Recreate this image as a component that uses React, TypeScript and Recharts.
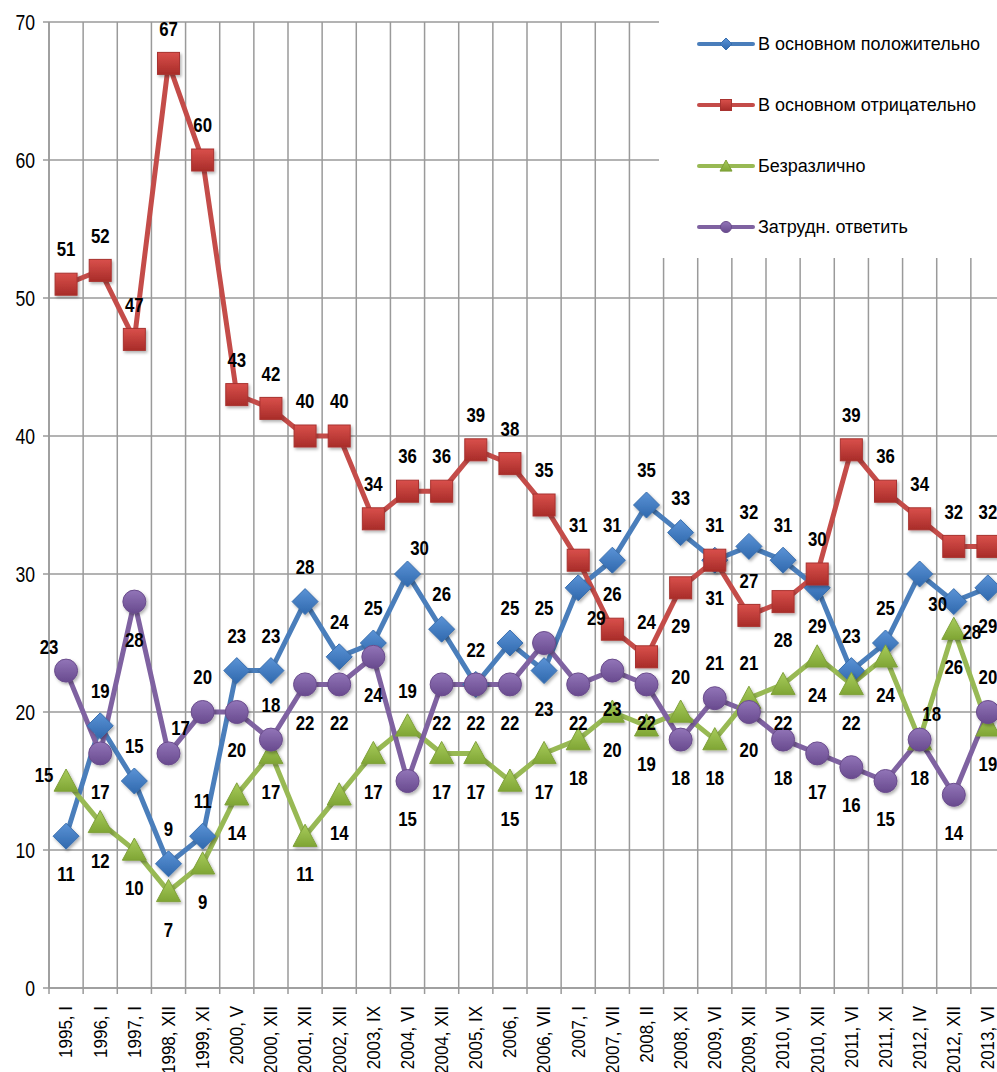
import React from 'react';
import {
  LineChart,
  Line,
  XAxis,
  YAxis,
  CartesianGrid,
  Legend,
  LabelList,
} from 'recharts';

// категории опросов (год, месяц)
const categories = [
  '1995, I', '1996, I', '1997, I', '1998, XII', '1999, XI', '2000, V', '2000, XII',
  '2001, XII', '2002, XII', '2003, IX', '2004, VI', '2004, XII', '2005, IX', '2006, I',
  '2006, VII', '2007, I', '2007, VII', '2008, II', '2008, XI', '2009, VI', '2009, XII',
  '2010, VI', '2010, XII', '2011, VI', '2011, XI', '2012, IV', '2012, XII', '2013, VI',
];

const positive = [11, 19, 15, 9, 11, 23, 23, 28, 24, 25, 30, 26, 22, 25, 23, 29, 31, 35, 33, 31, 32, 31, 29, 23, 25, 30, 28, 29];
const negative = [51, 52, 47, 67, 60, 43, 42, 40, 40, 34, 36, 36, 39, 38, 35, 31, 26, 24, 29, 31, 27, 28, 30, 39, 36, 34, 32, 32];
const indifferent = [15, 12, 10, 7, 9, 14, 17, 11, 14, 17, 19, 17, 17, 15, 17, 18, 20, 19, 20, 18, 21, 22, 24, 22, 24, 18, 26, 19];
const hardToSay = [23, 17, 28, 17, 20, 20, 18, 22, 22, 24, 15, 22, 22, 22, 25, 22, 23, 22, 18, 21, 20, 18, 17, 16, 15, 18, 14, 20];

const yTicks = [0, 10, 20, 30, 40, 50, 60, 70];

// где стоит подпись значения относительно точки
const posPlace = ['b', 't', 't', 't', 't', 't', 't', 't', 't', 't', 'tr', 't', 't', 't', 'b', 'br', 't', 't', 't', 't', 't', 't', 'b', 't', 't', 'br', 'br', 'b'];
const negPlace = ['t', 't', 't', 't', 't', 't', 't', 't', 't', 't', 't', 't', 't', 't', 't', 't', 't', 't', 'b', 'b', 't', 'b', 't', 't', 't', 't', 't', 't'];
const indPlace = ['l', 'b', 'b', 'b', 'b', 'b', 'b', 'b', 'b', 'b', 't', 'b', 'b', 'b', 'b', 'b', 'b', 'b', 't', 'b', 't', 'b', 'b', 'b', 'b', 'tr', 'b', 'b'];
const hardPlace = ['tl', 'b', 'b', 'tr', 't', 'b', 't', 'b', 'b', 'b', 'b', 'b', 'b', 'b', 't', 'b', 'b', 'b', 'b', 't', 'b', 'b', 'b', 'b', 'b', 'b', 'b', 't'];

const data = categories.map((c, i) => ({
  cat: c,
  positive: positive[i],
  negative: negative[i],
  indifferent: indifferent[i],
  hardToSay: hardToSay[i],
}));

const W = 1005;
const H = 1072;
const LEFT = 49;
const BAND = (W - LEFT) / categories.length;

const SANS = '"Liberation Sans", Arial, sans-serif';
const GRID = '#9a9a9a';
const NARROW_X = 0.8; // нет узкого шрифта — сжимаем обычный

const offsets: Record<string, [number, number]> = {
  t: [0, -35],
  b: [0, 38],
  tr: [12, -26],
  br: [18, 30],
  l: [-22, -6],
  tl: [-17, -24],
};

const makeLabel = (place: string[]) => (props: any) => {
  const { x, y, value, index } = props;
  const [dx, dy] = offsets[place[index]] || offsets.t;
  return (
    <text
      transform={`translate(${x + dx},${y + dy}) scale(${NARROW_X},1)`}
      textAnchor="middle"
      dominantBaseline="central"
      fontFamily={SANS}
      fontWeight="bold"
      fontSize={21}
      fill="#000"
    >
      {value}
    </text>
  );
};

const Diamond = ({ cx, cy, s = 13, f = 'url(#sh)' }: any) => (
  <path
    d={`M${cx},${cy - s} L${cx + s},${cy} L${cx},${cy + s} L${cx - s},${cy} Z`}
    fill="url(#gBlue)"
    stroke="#3a6fae"
    strokeWidth={1}
    filter={f}
  />
);
const Square = ({ cx, cy, s = 11, f = 'url(#sh)' }: any) => (
  <rect x={cx - s} y={cy - s} width={s * 2} height={s * 2} fill="url(#gRed)" stroke="#a83330" strokeWidth={1} filter={f} />
);
const Triangle = ({ cx, cy, s = 12, f = 'url(#sh)' }: any) => (
  <path
    d={`M${cx},${cy - s} L${cx + s},${cy + s * 0.85} L${cx - s},${cy + s * 0.85} Z`}
    fill="url(#gGreen)"
    stroke="#7fa03a"
    strokeWidth={1}
    filter={f}
  />
);
const Circle = ({ cx, cy, s = 11.5, f = 'url(#sh)' }: any) => (
  <circle cx={cx} cy={cy} r={s} fill="url(#gPurple)" stroke="#6a4c8c" strokeWidth={1} filter={f} />
);

const series = [
  { key: 'positive', name: 'В основном положительно', color: '#4a7ebb', Mark: Diamond, place: posPlace, small: 6 },
  { key: 'negative', name: 'В основном отрицательно', color: '#c44c49', Mark: Square, place: negPlace, small: 5.5 },
  { key: 'indifferent', name: 'Безразлично', color: '#98b954', Mark: Triangle, place: indPlace, small: 6 },
  { key: 'hardToSay', name: 'Затрудн. ответить', color: '#7f62a1', Mark: Circle, place: hardPlace, small: 5.5 },
];

const XTick = (props: any) => {
  const { x, y, payload } = props;
  const top = y + 10;
  return (
    <g>
      <line x1={x - BAND / 2} x2={x - BAND / 2} y1={y - 8} y2={y - 2} stroke={GRID} strokeWidth={1.5} />
      <text
        transform={`translate(${x},${top}) rotate(-90) scale(1,1.12)`}
        textAnchor="end"
        dominantBaseline="central"
        fontFamily={SANS}
        fontSize={17}
        fill="#000"
      >
        {payload.value}
      </text>
    </g>
  );
};

const YTick = (props: any) => {
  const { x, y, payload } = props;
  return (
    <text
      transform={`translate(${x},${y}) scale(${NARROW_X},1)`}
      textAnchor="end"
      dominantBaseline="central"
      fontFamily={SANS}
      fontSize={22}
      fill="#000"
    >
      {payload.value}
    </text>
  );
};

const LegendBox = () => (
  <div
    style={{
      width: 340,
      height: 258,
      background: '#fff',
      boxSizing: 'border-box',
      paddingTop: 30,
      paddingLeft: 38,
    }}
  >
    {series.map((s) => (
      <div key={s.key} style={{ display: 'flex', alignItems: 'center', height: 28, marginBottom: 33 }}>
        <svg width={58} height={24} style={{ display: 'block' }}>
          <line x1={2} x2={56} y1={12} y2={12} stroke={s.color} strokeWidth={4} strokeLinecap="round" />
          <s.Mark cx={29} cy={12} s={s.small} f="none" />
        </svg>
        <span style={{ fontFamily: SANS, fontSize: 18, color: '#000', marginLeft: 3, whiteSpace: 'nowrap' }}>
          {s.name}
        </span>
      </div>
    ))}
  </div>
);

export default function App() {
  return (
    <div style={{ width: 997, height: H, overflow: 'hidden', position: 'relative', background: '#fff' }}>
      <style>{'body{margin:0}'}</style>
      <LineChart width={W} height={H} data={data} margin={{ top: 22, right: 0, left: 0, bottom: 0 }}>
        <defs>
          <linearGradient id="gBlue" x1="0" y1="0" x2="0" y2="1">
            <stop offset="0%" stopColor="#5b93d6" />
            <stop offset="100%" stopColor="#2f68ad" />
          </linearGradient>
          <linearGradient id="gRed" x1="0" y1="0" x2="0" y2="1">
            <stop offset="0%" stopColor="#d9504b" />
            <stop offset="100%" stopColor="#a82c29" />
          </linearGradient>
          <linearGradient id="gGreen" x1="0" y1="0" x2="0" y2="1">
            <stop offset="0%" stopColor="#a8cc5c" />
            <stop offset="100%" stopColor="#7fa534" />
          </linearGradient>
          <linearGradient id="gPurple" x1="0" y1="0" x2="0" y2="1">
            <stop offset="0%" stopColor="#9275b8" />
            <stop offset="100%" stopColor="#684a8e" />
          </linearGradient>
          <filter id="sh" x="-40%" y="-40%" width="180%" height="180%">
            <feDropShadow dx="1.5" dy="2" stdDeviation="1.5" floodColor="#000" floodOpacity="0.3" />
          </filter>
        </defs>
        <CartesianGrid
          stroke={GRID}
          strokeWidth={1.5}
          verticalCoordinatesGenerator={({ offset }: any) =>
            Array.from({ length: categories.length + 1 }, (_, i) => offset.left + (i * offset.width) / categories.length)
          }
        />
        <XAxis
          dataKey="cat"
          interval={0}
          height={H - 988}
          padding={{ left: BAND / 2, right: BAND / 2 }}
          axisLine={{ stroke: GRID, strokeWidth: 1.5 }}
          tickLine={false}
          tick={<XTick />}
        />
        <YAxis
          domain={[0, 70]}
          ticks={yTicks}
          width={LEFT}
          axisLine={{ stroke: GRID, strokeWidth: 1.5 }}
          tickLine={{ stroke: GRID, strokeWidth: 1.5 }}
          tickSize={6}
          tickMargin={8}
          tick={<YTick />}
        />
        <Legend
          layout="horizontal"
          verticalAlign="middle"
          align="center"
          wrapperStyle={{ top: 0, left: 659, width: 340, height: 258 }}
          content={<LegendBox />}
        />
        {series.map((s) => (
          <Line
            key={s.key}
            dataKey={s.key}
            name={s.name}
            type="linear"
            stroke={s.color}
            strokeWidth={5}
            dot={(p: any) => <s.Mark key={`${s.key}-${p.index}`} cx={p.cx} cy={p.cy} />}
            activeDot={false}
            isAnimationActive={false}
          >
            <LabelList dataKey={s.key} content={makeLabel(s.place)} />
          </Line>
        ))}
      </LineChart>
    </div>
  );
}
